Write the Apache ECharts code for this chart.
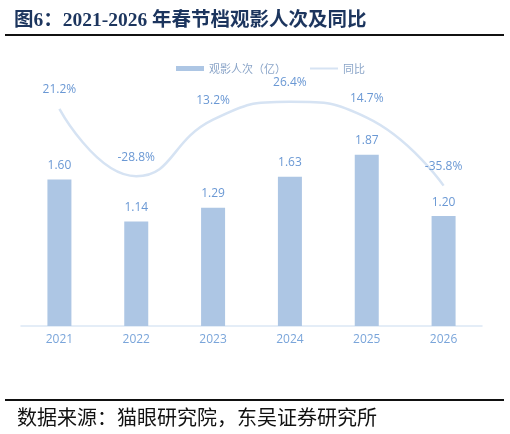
<!DOCTYPE html>
<html>
<head>
<meta charset="utf-8">
<script src="https://cdn.jsdelivr.net/npm/echarts@6/dist/echarts.min.js"></script>
<style>
  html, body { margin: 0; padding: 0; background: #fff; }
  #chart { width: 510px; height: 434px; }
</style>
</head>
<body>
<div id="chart"></div>
<script>
// 数据
var years = ["2021", "2022", "2023", "2024", "2025", "2026"];
var viewers = [1.60, 1.14, 1.29, 1.63, 1.87, 1.20]; // 观影人次（亿）
var yoy = [21.2, -28.8, 13.2, 26.4, 14.7, -35.8]; // 同比 %

var blueText = "#6a98d4";
var legendText = { color: "#8ba5c8", fontSize: 11, fontFamily: "'Noto Sans CJK SC'" };

var chart = echarts.init(document.getElementById("chart"));

var option = {
  animation: false,
  title: {
    text: "图6：2021-2026 年春节档观影人次及同比",
    left: 9,
    top: 6,
    textStyle: {
      fontFamily: "Liberation Serif, 'Noto Sans CJK SC'",
      fontWeight: "bold",
      fontSize: 19.5,
      color: "#1c355e",
    },
  },
  graphic: [
    // 标题下横线
    { type: "rect", shape: { x: 5, y: 34, width: 499, height: 2 }, style: { fill: "#111" } },
    // 底部横线
    { type: "rect", shape: { x: 5, y: 399, width: 499, height: 2 }, style: { fill: "#111" } },
    {
      type: "text",
      left: 17,
      top: 407,
      style: {
        text: "数据来源：猫眼研究院，东吴证券研究所",
        font: "20px 'Noto Sans CJK SC'",
        fill: "#111",
      },
    },
  ],
  // 分开设置图例
  legend: [
    {
      top: 58,
      left: 171,
      itemWidth: 28,
      itemHeight: 5,
      itemGap: 10,
      textStyle: legendText,
      data: [{ name: "观影人次（亿）", icon: "rect" }],
    },
    {
      top: 58,
      left: 305,
      itemWidth: 28,
      itemHeight: 2,
      textStyle: legendText,
      data: [{ name: "同比", icon: "rect" }],
    },
  ],
  grid: {
    top: 97,
    left: 21,
    right: 28,
    bottom: 108,
  },
  xAxis: {
    type: "category",
    data: years,
    axisLine: { lineStyle: { color: "#dbe7f5", width: 1.5 } },
    axisTick: { show: false },
    axisLabel: { color: "#7aa5da", fontSize: 12, margin: 8, fontFamily: "'Open Sans'" },
  },
  yAxis: [
    { type: "value", min: 0, max: 2.5, show: false, splitLine: { show: false } },
    { type: "value", min: -140, max: 30, show: false, splitLine: { show: false } },
  ],
  series: [
    {
      name: "观影人次（亿）",
      type: "bar",
      data: viewers,
      barWidth: 24,
      itemStyle: { color: "#adc6e4" },
      label: {
        show: true,
        position: "top",
        distance: 8,
        color: blueText,
        fontSize: 12,
        fontFamily: "'Open Sans'",
        formatter: function (p) { return p.value.toFixed(2); },
      },
    },
    {
      name: "同比",
      type: "line",
      yAxisIndex: 1,
      data: yoy,
      smooth: true,
      symbol: "circle",
      symbolSize: 0.1,
      showSymbol: true,
      lineStyle: { color: "#d6e3f3", width: 2.5 },
      itemStyle: { color: "#d6e3f3" },
      label: {
        show: true,
        position: "top",
        distance: 13,
        color: blueText,
        fontSize: 12,
        fontFamily: "'Open Sans'",
        formatter: function (p) { return p.value.toFixed(1) + "%"; },
      },
    },
  ],
};

chart.setOption(option);
</script>
</body>
</html>
